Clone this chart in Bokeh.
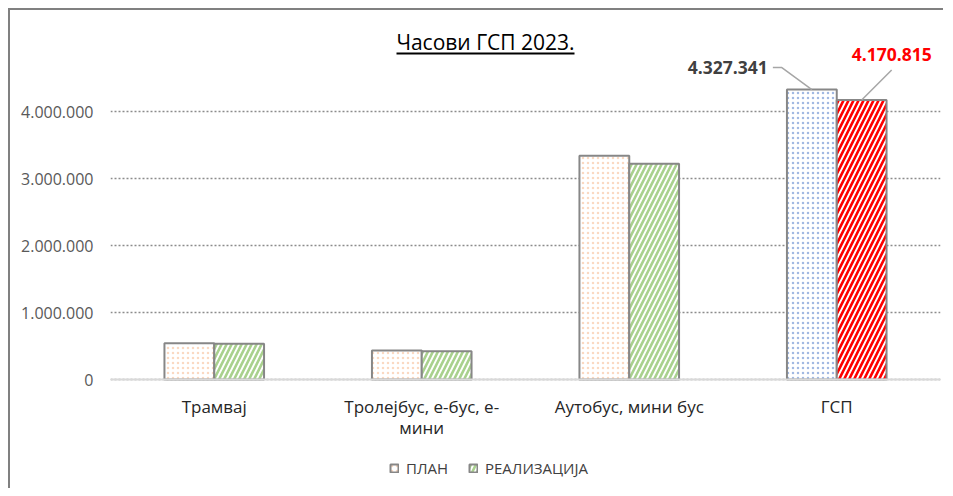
from bokeh.plotting import figure
from bokeh.models import (ColumnDataSource, FixedTicker, Legend, LegendItem, Label,
                          Span, BoxAnnotation, InlineStyleSheet)
from bokeh.transform import dodge
from bokeh.embed import file_html
from bokeh.resources import INLINE

# ---- data ----
categories = ["Трамвај", "Тролејбус, е-бус, е-\nмини", "Аутобус, мини бус", "ГСП"]
plan = [542000, 433000, 3339000, 4327341]
real = [532000, 422000, 3219000, 4170815]
y_ticks = [0, 1000000, 2000000, 3000000, 4000000]
y_tick_labels = ["0", "1.000.000", "2.000.000", "3.000.000", "4.000.000"]
series_names = ["ПЛАН", "РЕАЛИЗАЦИЈА"]
title_text = "Часови ГСП 2023."

# ---- styles / layout ----
plan_hatch = ["#F4B183", "#F4B183", "#F4B183", "#4472C4"]
real_hatch = ["#A9D18E", "#A9D18E", "#A9D18E", "#FF0000"]
FONT = "Open Sans"
W, H = 935, 480
FRAME_W = 830
PX_PER_UNIT = 67 / 1e6          # vertical scale
ZERO_FROM_TOP = 369             # px from canvas top to the zero line
Y_TOP = ZERO_FROM_TOP / PX_PER_UNIT
Y_BOT = -(H - ZERO_FROM_TOP) / PX_PER_UNIT

xs = [i + 0.5 for i in range(len(categories))]
src = ColumnDataSource(dict(x=xs, plan=plan, real=real,
                            plan_hatch=plan_hatch, real_hatch=real_hatch))

p = figure(width=W, height=H, output_backend="svg", toolbar_location=None,
           x_range=(0, len(categories)), y_range=(Y_BOT, Y_TOP),
           min_border_left=100, min_border_right=W - 100 - FRAME_W, min_border_top=0,
           min_border_bottom=0)
p.outline_line_color = None
p.stylesheets = [InlineStyleSheet(css=":host { margin-left: 8px; margin-top: 8px; border-left: 2px solid #808080; border-top: 2px solid #808080; }")]

BW = 0.24
r_plan = p.vbar(x=dodge("x", -BW / 2, range=p.x_range), top="plan", bottom=0, width=BW,
                source=src, fill_color="white", line_color="#878787", line_width=2,
                hatch_pattern="dot", hatch_color="plan_hatch", hatch_scale=5,
                hatch_weight=2.2, hatch_alpha=0.5)
r_real = p.vbar(x=dodge("x", BW / 2, range=p.x_range), top="real", bottom=0, width=BW,
                source=src, fill_color="white", line_color="#878787", line_width=2,
                hatch_pattern="right_diagonal_line", hatch_color="real_hatch",
                hatch_scale=10, hatch_weight=2.6)

# axes
p.yaxis.ticker = FixedTicker(ticks=y_ticks)
p.yaxis.major_label_overrides = dict(zip(y_ticks, y_tick_labels))
p.yaxis.axis_line_color = None
p.yaxis.major_tick_line_color = None
p.yaxis.minor_tick_line_color = None
p.yaxis.major_label_standoff = 11
p.yaxis.major_label_text_font = FONT
p.yaxis.major_label_text_font_size = "16px"
p.yaxis.major_label_text_color = "#595959"

p.xaxis.fixed_location = 0
p.xaxis.ticker = FixedTicker(ticks=xs)
p.xaxis.major_label_overrides = dict(zip(xs, categories))
p.xaxis.axis_line_color = None
p.xaxis.major_tick_line_color = None
p.xaxis.minor_tick_line_color = None
p.xaxis.major_label_standoff = 9
p.xaxis.major_label_text_font = FONT
p.xaxis.major_label_text_font_size = "17px"
p.xaxis.major_label_text_color = "#262626"
p.xaxis.major_label_text_line_height = 0.95

p.xgrid.grid_line_color = None
p.ygrid.ticker = FixedTicker(ticks=y_ticks)
p.ygrid.grid_line_color = "#8C8C8C"
p.ygrid.grid_line_dash = "2 2"
p.ygrid.grid_line_width = 1.3
p.add_layout(Span(location=0, dimension="width", line_color="#D9D9D9", line_width=2))

# data labels for last category with leader lines
px_x = len(categories) / FRAME_W
px_y = 1 / PX_PER_UNIT
i = len(categories) - 1
bx_plan = xs[i] - BW / 2
bx_real = xs[i] + BW / 2
p.line(x=[bx_plan, bx_plan - 30 * px_x, bx_plan - 39 * px_x],
       y=[plan[i], plan[i] + 22 * px_y, plan[i] + 22 * px_y],
       line_color="#A6A6A6", line_width=1.5)
p.line(x=[bx_real, bx_real + 30 * px_x],
       y=[real[i], real[i] + 30 * px_y],
       line_color="#A6A6A6", line_width=1.5)
fmt = lambda v: f"{v:,}".replace(",", ".")
p.add_layout(Label(x=bx_plan, y=plan[i], text=fmt(plan[i]), x_offset=-44, y_offset=22,
                   text_align="right", text_baseline="middle", text_font=FONT,
                   text_font_size="17.5px", text_font_style="bold", text_color="#404040"))
p.add_layout(Label(x=bx_real, y=real[i], text=fmt(real[i]), x_offset=30, y_offset=46,
                   text_align="center", text_baseline="middle", text_font=FONT,
                   text_font_size="17.5px", text_font_style="bold", text_color="#FF0000"))

# title (screen units relative to the frame's bottom-left) with underline
p.add_layout(Label(x=375, y=H - 31, x_units="screen", y_units="screen", text=title_text,
                   text_align="center", text_baseline="middle", text_font=FONT,
                   text_font_size="21px", text_color="#000000"))
p.add_layout(BoxAnnotation(left=286, right=464, bottom=H - 44, top=H - 42,
                           left_units="screen", right_units="screen",
                           bottom_units="screen", top_units="screen",
                           fill_color="#000000", fill_alpha=1, line_color=None))

# legend
legend = Legend(items=[LegendItem(label=series_names[0], renderers=[r_plan]),
                       LegendItem(label=series_names[1], renderers=[r_real])],
                orientation="horizontal", location=(279, 12),
                label_text_font=FONT, label_text_font_size="15px",
                label_text_color="#404040", glyph_width=10, glyph_height=10,
                label_standoff=7, spacing=20, border_line_color=None,
                background_fill_alpha=0, margin=0, padding=4)
p.add_layout(legend)

open("out.html", "w").write(file_html(p, INLINE))
